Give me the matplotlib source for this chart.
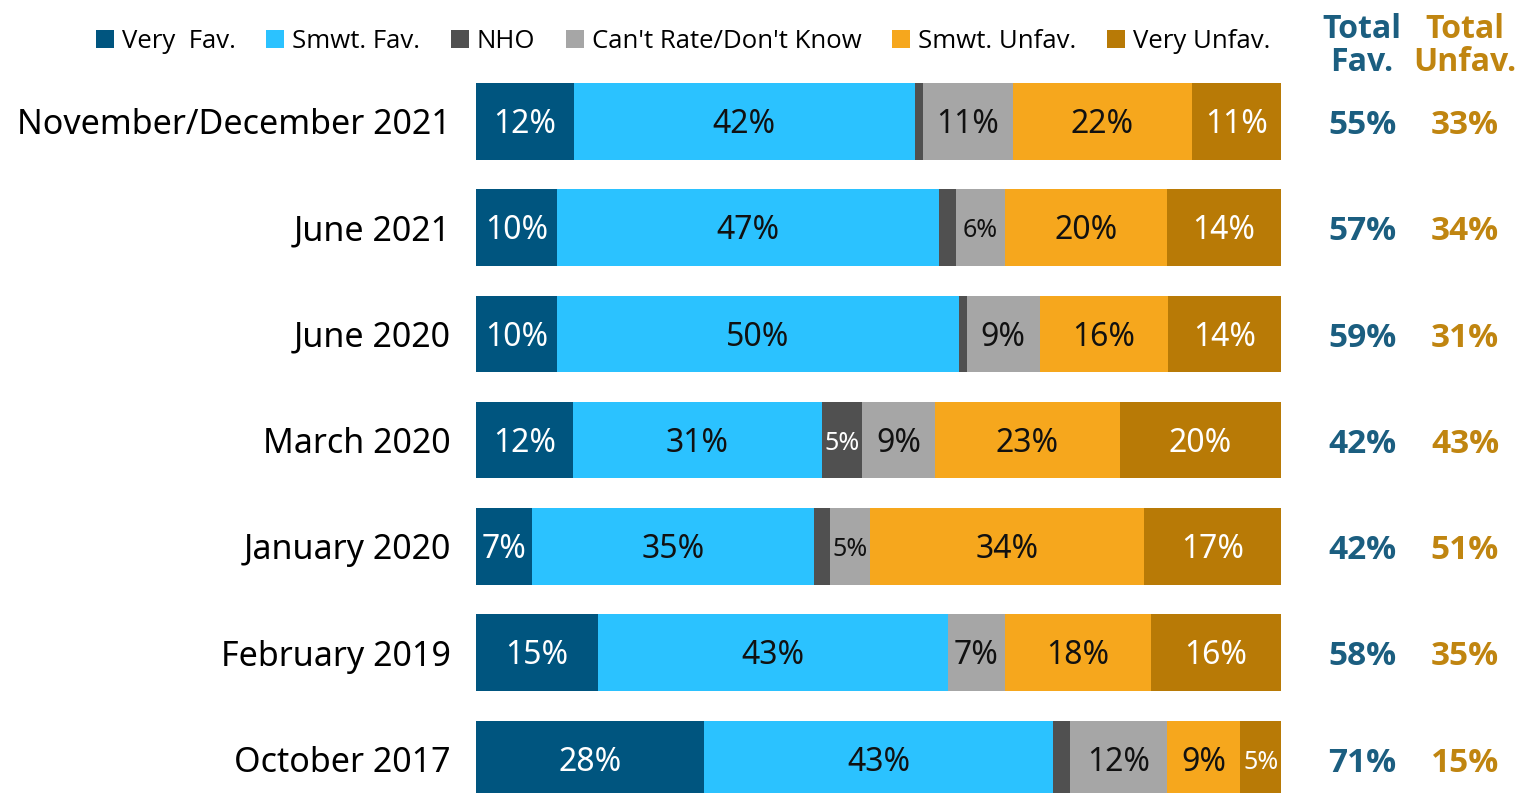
import matplotlib
matplotlib.use("Agg")
import matplotlib.pyplot as plt
from matplotlib.patches import Patch
import numpy as np

categories = ["November/December 2021", "June 2021", "June 2020", "March 2020",
              "January 2020", "February 2019", "October 2017"]
series_names = ["Very  Fav.", "Smwt. Fav.", "NHO", "Can't Rate/Don't Know", "Smwt. Unfav.", "Very Unfav."]
very_fav = [12, 10, 10, 12, 7, 15, 28]
smwt_fav = [42, 47, 50, 31, 35, 43, 43]
nho = [1, 2, 1, 5, 2, 0, 2]
cant_rate = [11, 6, 9, 9, 5, 7, 12]
smwt_unfav = [22, 20, 16, 23, 34, 18, 9]
very_unfav = [11, 14, 14, 20, 17, 16, 5]
total_fav = ["55%", "57%", "59%", "42%", "42%", "58%", "71%"]
total_unfav = ["33%", "34%", "31%", "43%", "51%", "35%", "15%"]

colors = ["#00557F", "#2BC2FF", "#505050", "#A6A6A6", "#F6A71D", "#B87A06"]
text_colors = ["white", "#111111", "white", "#111111", "#111111", "white"]
fav_color = "#1B5E80"
unfav_color = "#C08510"

data = np.array([very_fav, smwt_fav, nho, cant_rate, smwt_unfav, very_unfav], dtype=float)
totals = data.sum(axis=0)
norm = data / totals * 100

fig = plt.figure(figsize=(15.2, 7.93), dpi=100)
ax = fig.add_axes([476/1520, 0, (1281-476)/1520, (793-83)/793])
y = np.arange(len(categories))
left = np.zeros(len(categories))
label_font = ["Noto Sans", "DejaVu Sans"]
dy = 0.03
for i in range(6):
    ax.barh(y, norm[i], left=left, height=0.72, color=colors[i], edgecolor="none")
    for j in range(len(categories)):
        v = data[i, j]
        if v >= 5:
            fs = 18 if v <= 6 else 23
            ax.text(left[j] + norm[i, j] / 2, y[j] + dy, f"{int(v)}%", ha="center", va="center",
                    fontsize=fs, color=text_colors[i], family=label_font)
    left += norm[i]

ax.set_xlim(0, 100)
ax.set_ylim(6 + (793-759)/106.3, -0.36)
ax.set_yticks(y)
ax.set_yticklabels(categories, fontsize=24.5, family=label_font)
ax.tick_params(axis="y", length=0, pad=18)
ax.set_xticks([])
for s in ax.spines.values():
    s.set_visible(False)

# Total columns
trans = ax.get_yaxis_transform()
fx = (1362 - 476) / (1281 - 476)
ux = (1465 - 476) / (1281 - 476)
tot_font = ["Open Sans", "DejaVu Sans"]
for j in range(len(categories)):
    ax.text(fx, y[j] + 0.04, total_fav[j], transform=trans, ha="center", va="center",
            fontsize=24, fontweight="bold", color=fav_color, family=tot_font, clip_on=False)
    ax.text(ux, y[j] + 0.04, total_unfav[j], transform=trans, ha="center", va="center",
            fontsize=24, fontweight="bold", color=unfav_color, family=tot_font, clip_on=False)

fig.text(1362/1520, 1 - 46/793, "Total\nFav.", ha="center", va="center", fontsize=23,
         fontweight="bold", color=fav_color, linespacing=1.0, family=tot_font)
fig.text(1465/1520, 1 - 46/793, "Total\nUnfav.", ha="center", va="center", fontsize=23,
         fontweight="bold", color=unfav_color, linespacing=1.0, family=tot_font)

handles = [Patch(facecolor=c, edgecolor="none") for c in colors]
fig.legend(handles, series_names, loc="center", bbox_to_anchor=(683/1520, 1 - 41/793), ncol=6,
           frameon=False, handlelength=0.7, handleheight=0.7, handletextpad=0.3, columnspacing=1.2,
           prop={"family": ["Open Sans", "DejaVu Sans"], "size": 18.5})

fig.savefig("out.png", dpi=100)
